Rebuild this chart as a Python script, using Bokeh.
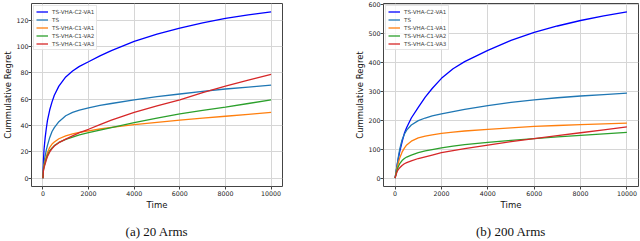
from bokeh.plotting import figure
from bokeh.layouts import row
from bokeh.models import Range1d, FixedTicker, Legend, LegendItem, LinearAxis
from bokeh.embed import file_html
from bokeh.resources import INLINE

# ---------------- data ----------------
time = [0, 25, 50, 100, 150, 200, 300, 400, 500, 700, 1000, 1300, 1600, 2000,
        2500, 3000, 4000, 5000, 6000, 7000, 8000, 9000, 10000]

series_names = ["TS-VHA-C2-VA1", "TS", "TS-VHA-C1-VA1", "TS-VHA-C1-VA2", "TS-VHA-C1-VA3"]
series_colors = ["#0000ff", "#1f77b4", "#ff7f0e", "#2ca02c", "#d62728"]

# (a) 20 Arms
a_c2va1 = [0, 14, 22, 31, 38, 44, 52, 58, 63, 70, 77, 81.5, 85, 88.5, 93, 97, 104, 109.5, 114, 118, 121.5, 124.2, 126.5]
a_ts    = [0, 8, 12, 17, 21.5, 25, 31, 35.5, 38.5, 43, 47.5, 50, 51.8, 53.5, 55.3, 56.8, 59.6, 62, 64, 66, 67.8, 69.3, 70.7]
a_c1va1 = [0, 7, 10, 13.5, 16.5, 19.5, 23.5, 26, 27.5, 30, 32.2, 33.7, 34.8, 36, 37.4, 38.6, 40.8, 42.5, 44.2, 45.7, 47.1, 48.6, 50]
a_c1va2 = [0, 6.5, 9, 12, 15, 17.5, 21, 23, 24.8, 27.2, 29.5, 31.3, 33, 34.7, 36.6, 38.5, 42.2, 45.6, 48.9, 51.5, 54, 56.8, 59.5]
a_c1va3 = [0, 6, 8, 11, 14, 16.5, 20, 22.5, 24.5, 27, 29.7, 32.2, 34.6, 37.2, 40.8, 44.2, 50, 55, 59.6, 65, 70, 74.5, 79]

# (b) 200 Arms
b_c2va1 = [0, 12, 25, 50, 72, 92, 125, 155, 175, 208, 245, 280, 310, 345, 378, 403, 442, 476, 504, 526, 545, 561, 575]
b_ts    = [0, 14, 28, 52, 78, 100, 132, 152, 166, 184, 199, 208, 215, 222, 230, 238, 251, 262, 271, 278, 284, 289, 294]
b_c1va1 = [0, 11, 22, 40, 56, 70, 90, 104, 115, 128, 139, 145, 150, 155, 159, 163, 169, 174, 179, 182, 185, 188, 190]
b_c1va2 = [0, 9, 18, 32, 42, 50, 61, 68, 73, 80, 88, 94, 99, 105, 111, 116, 124, 131, 137, 143, 148, 153, 158]
b_c1va3 = [0, 7, 14, 25, 31, 36, 44, 50, 54, 60, 68, 74, 80, 88, 95, 102, 114, 126, 137, 147, 157, 167, 177]

x_ticks = [0, 2000, 4000, 6000, 8000, 10000]
a_y_ticks = [0, 20, 40, 60, 80, 100, 120]
b_y_ticks = [0, 100, 200, 300, 400, 500, 600]

a_caption = "(a) 20 Arms"
b_caption = "(b) 200 Arms"


def style_axis(ax):
    ax.axis_line_color = None
    ax.major_tick_line_color = "#444444"
    ax.major_tick_out = 3
    ax.major_tick_in = 0
    ax.minor_tick_line_color = None
    ax.major_label_text_font = "DejaVu Sans"
    ax.major_label_text_font_size = "6.3px"
    ax.major_label_text_color = "#222222"
    ax.major_label_standoff = 0
    ax.axis_label_text_font = "DejaVu Sans"
    ax.axis_label_text_font_size = "8.5px"
    ax.axis_label_text_font_style = "normal"
    ax.axis_label_text_color = "#111111"
    ax.axis_label_standoff = 0


def make_panel(series, y_ticks, y_start, y_end, caption, width, border_left, border_right):
    p = figure(width=width, height=241, output_backend="svg", toolbar_location=None,
               x_range=Range1d(-500, 10500), y_range=Range1d(y_start, y_end),
               min_border_left=border_left, min_border_right=border_right,
               min_border_top=3, min_border_bottom=0)
    p.background_fill_color = "white"
    p.border_fill_color = "white"
    p.outline_line_color = "#444444"
    p.outline_line_width = 1

    xax = p.xaxis[0]
    yax = p.yaxis[0]
    xax.ticker = FixedTicker(ticks=x_ticks)
    yax.ticker = FixedTicker(ticks=y_ticks)
    style_axis(xax)
    style_axis(yax)
    xax.major_label_standoff = 1
    xax.axis_label_standoff = 1
    xax.axis_label = "Time"
    yax.axis_label = "Cummulative Regret"

    p.grid.grid_line_color = "#d6d6d6"
    p.grid.grid_line_width = 1

    items = []
    for name, color, ys in zip(series_names, series_colors, series):
        r = p.line(time, ys, line_color=color, line_width=1.3)
        items.append(LegendItem(label=name, renderers=[r]))

    legend = Legend(items=items, location="top_left",
                    label_text_font="DejaVu Sans", label_text_font_size="5.6px",
                    label_height=7, glyph_height=7, glyph_width=12,
                    label_standoff=4, spacing=1, padding=2, margin=2,
                    border_line_color="#cccccc", border_line_width=1,
                    background_fill_color="white", background_fill_alpha=0.8)
    p.add_layout(legend, "center")

    # caption below the subplot, drawn as the label of a tick-less axis
    cap = LinearAxis(ticker=FixedTicker(ticks=[]), axis_line_color=None,
                     major_tick_line_color=None, minor_tick_line_color=None,
                     major_label_standoff=0, major_tick_out=0, major_tick_in=0,
                     axis_label=caption, axis_label_standoff=11,
                     axis_label_text_font="Liberation Serif",
                     axis_label_text_font_size="13px",
                     axis_label_text_font_style="normal",
                     axis_label_text_color="#111111")
    p.add_layout(cap, "below")
    return p


pa = make_panel([a_c2va1, a_ts, a_c1va1, a_c1va2, a_c1va3], a_y_ticks, -6.3, 132.8,
                a_caption, 313, 27, 31)
pb = make_panel([b_c2va1, b_ts, b_c1va1, b_c1va2, b_c1va3], b_y_ticks, -28.75, 603.75,
                b_caption, 327, 70, 2)

layout = row(pa, pb)
open("out.html", "w").write(file_html(layout, INLINE))
